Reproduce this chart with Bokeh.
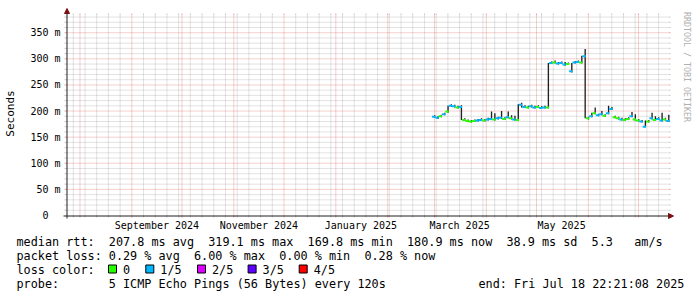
import math
from datetime import datetime, timedelta
from bokeh.plotting import figure
from bokeh.layouts import column, row
from bokeh.models import (Range1d, FixedTicker, Arrow, NormalHead, ColumnDataSource)
from bokeh.core.properties import value
from bokeh.embed import file_html
from bokeh.resources import INLINE

# ---------------- data ----------------
start_time = datetime(2024, 7, 23, 22, 21, 8)
end_time = datetime(2025, 7, 18, 22, 21, 8)
first_sample = datetime(2025, 2, 27, 12, 0, 0)
sample_step_days = 2

median_ms = [189, 187, 190, 194, 199, 210, 209, 207, 208, 183,
             181, 180, 181, 182, 183, 182, 184, 185, 184, 186,
             187, 185, 188, 186, 184, 183, 212, 208, 207, 209,
             207, 208, 206, 207, 207, 292, 293, 291, 292, 289,
             290, 276, 293, 294, 293, 305, 186, 190, 196, 192,
             194, 191, 196, 204, 188, 186, 184, 183, 185, 190,
             184, 182, 180, 170, 180, 186, 183, 185, 182, 184, 181]
smoke_hi_ms = [192, 190, 193, 197, 210, 213, 212, 210, 211, 186,
               184, 183, 184, 185, 186, 185, 187, 199, 196, 189,
               200, 188, 199, 192, 191, 213, 216, 211, 210, 212,
               210, 211, 209, 210, 292, 295, 297, 294, 295, 294,
               293, 292, 296, 297, 306, 319, 189, 197, 207, 195,
               200, 194, 210, 208, 191, 189, 187, 186, 188, 198,
               194, 185, 183, 182, 183, 197, 190, 188, 197, 187, 193]
smoke_lo_ms = [187, 185, 188, 192, 197, 208, 207, 205, 183, 181,
               179, 178, 179, 180, 181, 180, 182, 183, 182, 184,
               185, 183, 186, 184, 182, 181, 207, 206, 205, 207,
               205, 206, 204, 205, 205, 290, 291, 289, 290, 287,
               288, 274, 291, 292, 291, 186, 184, 188, 194, 190,
               192, 189, 194, 202, 186, 184, 182, 181, 183, 188,
               182, 180, 178, 169, 178, 184, 181, 183, 180, 182, 179]
loss_level = [1, 1, 0, 1, 0, 1, 1, 0, 1, 0,
              0, 0, 0, 1, 1, 0, 1, 1, 0, 1,
              1, 0, 1, 0, 1, 0, 1, 1, 0, 1,
              1, 0, 1, 1, 0, 1, 0, 1, 1, 1,
              0, 1, 1, 1, 0, 1, 0, 1, 0, 1,
              1, 0, 1, 1, 0, 0, 1, 0, 0, 1,
              0, 0, 1, 1, 0, 1, 0, 1, 1, 0, 1]

loss_labels = ["0", "1/5", "2/5", "3/5", "4/5"]
loss_colors = ["#26ff00", "#00b8ff", "#dd00ff", "#5e00ff", "#ff0000"]

y_top = 383
y_tick_values = [0, 50, 100, 150, 200, 250, 300, 350]
y_tick_labels = ["0\u00a0\u00a0", "50 m", "100 m", "150 m", "200 m", "250 m", "300 m", "350 m"]
month_labels = ["September 2024", "November 2024", "January 2025", "March 2025", "May 2025"]
month_label_starts = [datetime(2024, 9, 1), datetime(2024, 11, 1), datetime(2025, 1, 1),
                      datetime(2025, 3, 1), datetime(2025, 5, 1)]

rtt_head = "median rtt:"
rtt_stats = ["207.8 ms avg", "319.1 ms max", "169.8 ms min", "180.9 ms now", "38.9 ms sd", "5.3", "am/s"]
loss_head = "packet loss:"
loss_stats = ["0.29 % avg", "6.00 % max", "0.00 % min", "0.28 % now"]
color_head = "loss color:"
probe_head = "probe:"
probe_text = "5 ICMP Echo Pings (56 Bytes) every 120s"
end_text = "end: Fri Jul 18 22:21:08 2025"
watermark = "RRDTOOL / TOBI OETIKER"
y_title = "Seconds"

# ---------------- helpers ----------------
EPOCH = datetime(1970, 1, 1)
DAY = 86400000.0


def ms(dt):
    return (dt - EPOCH).total_seconds() * 1000.0


MGRID = "#e05050"
GRID = "#909090"
AXIS = "#202020"
ARROW = "#801010"
MONO = "DejaVu Sans Mono"

W, H = 697, 297
MAIN_W, MAIN_H = 676, 233
WM_W = W - MAIN_W
LEG_H = H - MAIN_H
# graph area (canvas px) where the time / value axes live
GL, GR, GT, GB = 66, 668, 15, 215
# bokeh frame (slightly larger so the arrow heads fit inside it)
FL, FR, FT, FB = 62, 675, 7, 219

t_start, t_end = ms(start_time), ms(end_time)
PX_X = (t_end - t_start) / (GR - GL)   # ms per pixel
PX_Y = y_top / (GB - GT)               # value per pixel

t0 = [ms(first_sample) + i * sample_step_days * DAY for i in range(len(median_ms))]
src = ColumnDataSource(dict(
    x0=t0,
    x1=[t + sample_step_days * DAY for t in t0],
    sx=[t + 1.6 * DAY for t in t0],
    y=median_ms,
    hi=smoke_hi_ms,
    lo=smoke_lo_ms,
    color=[loss_colors[l] for l in loss_level],
))

p = figure(width=MAIN_W, height=MAIN_H,
           x_range=Range1d(t_start - (GL - FL) * PX_X, t_end + (FR - GR) * PX_X),
           y_range=Range1d(-(FB - GB) * PX_Y, y_top + (GT - FT) * PX_Y),
           output_backend="svg", toolbar_location=None,
           min_border_left=FL, min_border_right=MAIN_W - FR, min_border_top=FT,
           min_border_bottom=MAIN_H - FB, background_fill_color="white",
           border_fill_color="white", outline_line_color=None)
p.xgrid.visible = False
p.ygrid.visible = False

# grid positions
month_starts = []
d = datetime(2024, 8, 1)
while d < end_time:
    month_starts.append(ms(d))
    d = datetime(d.year + (d.month // 12), d.month % 12 + 1, 1)
sundays = []
d = datetime(2024, 7, 28)
while d < end_time:
    if d.day != 1:
        sundays.append(ms(d))
    d += timedelta(days=7)
y_major = [v for v in y_tick_values if v > 0]
y_minor = [v for v in range(10, y_top, 10) if v % 50 != 0]


def hgrid(vals, color, alpha):
    n = len(vals)
    p.segment(x0=[t_start] * n, x1=[t_end] * n, y0=vals, y1=vals, line_color=color,
              line_alpha=alpha, line_dash="1 1", line_width=1)
    # small solid stubs outside the graph area on both sides
    p.segment(x0=[t_start - 2 * PX_X] * n, x1=[t_start] * n, y0=vals, y1=vals,
              line_color=color, line_alpha=alpha, line_width=1)
    p.segment(x0=[t_end] * n, x1=[t_end + 2 * PX_X] * n, y0=vals, y1=vals,
              line_color=color, line_alpha=alpha, line_width=1)


def vgrid(vals, color, alpha):
    n = len(vals)
    p.segment(x0=vals, x1=vals, y0=[0] * n, y1=[y_top] * n, line_color=color,
              line_alpha=alpha, line_dash="1 1", line_width=1)
    p.segment(x0=vals, x1=vals, y0=[-2 * PX_Y] * n, y1=[0] * n, line_color=color,
              line_alpha=alpha, line_width=1)
    p.segment(x0=vals, x1=vals, y0=[y_top] * n, y1=[y_top + 2 * PX_Y] * n,
              line_color=color, line_alpha=alpha, line_width=1)


hgrid(y_minor, GRID, 0.5)
vgrid(sundays, GRID, 0.5)
hgrid(y_major, MGRID, 0.55)
vgrid(month_starts, MGRID, 0.55)

# x axis: labels centred half a month after the month start
label_pos = [ms(m + timedelta(days=15)) for m in month_label_starts]
p.xaxis.ticker = FixedTicker(ticks=label_pos, minor_ticks=[])
p.xaxis.major_label_overrides = {v: s for v, s in zip(label_pos, month_labels)}
p.xaxis.axis_line_color = None
p.xaxis.major_tick_line_color = None
p.xaxis.minor_tick_line_color = None
p.xaxis.major_tick_out = 0
p.xaxis.major_tick_in = 0
p.xaxis.minor_tick_out = 0
p.xaxis.major_label_text_font = MONO
p.xaxis.major_label_text_font_size = "10px"
p.xaxis.major_label_text_color = "#000000"
p.xaxis.major_label_standoff = 0

p.yaxis.ticker = FixedTicker(ticks=y_tick_values, minor_ticks=[])
p.yaxis.major_label_overrides = {v: s for v, s in zip(y_tick_values, y_tick_labels)}
p.yaxis.axis_line_color = None
p.yaxis.major_tick_line_color = None
p.yaxis.minor_tick_line_color = None
p.yaxis.major_tick_out = 0
p.yaxis.major_tick_in = 0
p.yaxis.minor_tick_out = 0
p.yaxis.major_label_text_font = MONO
p.yaxis.major_label_text_font_size = "10px"
p.yaxis.major_label_text_color = "#000000"
p.yaxis.major_label_standoff = 2
p.yaxis.axis_label = y_title
p.yaxis.axis_label_text_font = MONO
p.yaxis.axis_label_text_font_size = "11px"
p.yaxis.axis_label_text_font_style = "normal"
p.yaxis.axis_label_text_color = "#000000"
p.yaxis.axis_label_standoff = 10

# smoke and median
p.vbar(x="sx", width=0.8 * DAY, top="hi", bottom="lo", source=src,
       fill_color="#202020", line_color=None)
p.segment(x0="x0", y0="y", x1="x1", y1="y", line_color="color", line_width=2, source=src)

# axis lines with arrow heads (screen units relative to frame bottom-left)
p.add_layout(Arrow(x_start=(GL - 3) - FL, y_start=FB - (GB + 0.5), x_end=(GR + 5) - FL,
                   y_end=FB - (GB + 0.5), start_units="screen", end_units="screen",
                   line_color=AXIS, line_width=1,
                   end=NormalHead(size=5, fill_color=ARROW, line_color=ARROW, line_width=1)))
p.add_layout(Arrow(x_start=(GL + 0.5) - FL, y_start=FB - (GB + 3), x_end=(GL + 0.5) - FL,
                   y_end=FB - (GT - 7), start_units="screen", end_units="screen",
                   line_color=AXIS, line_width=1,
                   end=NormalHead(size=5, fill_color=ARROW, line_color=ARROW, line_width=1)))


def blank(width, height, x_rng, y_rng):
    f = figure(width=width, height=height, x_range=x_rng, y_range=y_rng,
               output_backend="svg", toolbar_location=None, min_border=0,
               x_axis_location=None, y_axis_location=None, outline_line_color=None,
               background_fill_color="white", border_fill_color="white")
    f.xgrid.visible = False
    f.ygrid.visible = False
    return f


# watermark strip (pixel coordinates, y downwards)
wm = blank(WM_W, MAIN_H, Range1d(MAIN_W, W), Range1d(MAIN_H, 0))
wm.text(x=[686], y=[5], text=[watermark], angle=-math.pi / 2, text_align="left",
        text_baseline="middle", text_font=value(MONO), text_font_size=value("8.3px"),
        text_color="#b0b0b0")

# legend block (pixel coordinates, y downwards)
leg = blank(W, LEG_H, Range1d(0, W), Range1d(H, MAIN_H))
LEFT, CW = 16, 7.1
rows = [241, 255, 269, 283]
tx, ty, tt = [], [], []


def put(s, x, y):
    tx.append(x)
    ty.append(y)
    tt.append(s)


put(rtt_head, LEFT, rows[0])
for s, c in zip(rtt_stats, [13, 27, 41, 55, 69, 81, 87]):
    put(s, LEFT + c * CW, rows[0])
put(loss_head, LEFT, rows[1])
for s, c in zip(loss_stats, [13, 25, 37, 49]):
    put(s, LEFT + c * CW, rows[1])
put(color_head, LEFT, rows[2])
box_x = [108, 145.3, 197, 247.6, 298.7]
for lab, bx in zip(loss_labels, box_x):
    put(lab, bx + 14.5, rows[2])
put(probe_head, LEFT, rows[3])
put(probe_text, LEFT + 13 * CW, rows[3])
put(end_text, 478, rows[3])

leg.text(x=tx, y=ty, text=tt, text_align="left", text_baseline="middle",
         text_font=value(MONO), text_font_size=value("11.8px"), text_color="#000000")
leg.quad(left=box_x, right=[b + 8 for b in box_x], top=[264.5] * 5, bottom=[272.5] * 5,
         fill_color=loss_colors, line_color="#000000", line_width=1)

layout = column(row(p, wm, spacing=0), leg, spacing=0)
open("out.html", "w").write(file_html(layout, INLINE))
